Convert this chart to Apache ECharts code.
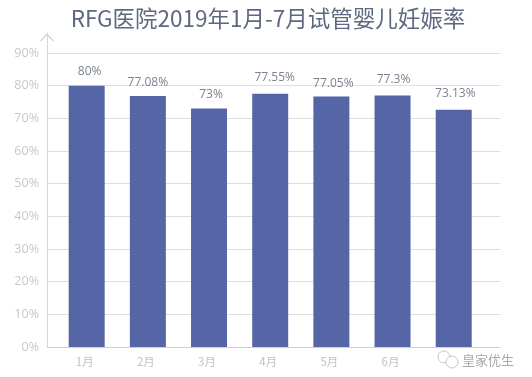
<!DOCTYPE html>
<html><head><meta charset="utf-8">
<script src="https://cdn.jsdelivr.net/npm/echarts@6/dist/echarts.min.js"></script>
<style>html,body{margin:0;padding:0;background:#fff}#c{width:532px;height:377px}</style>
</head><body><div id="c"></div>
<script>
const categories = ['1月','2月','3月','4月','5月','6月','7月'];
const values = [80, 76.8, 73, 77.5, 76.7, 77, 72.6];
const valueLabels = ['80%','77.08%','73%','77.55%','77.05%','77.3%','73.13%'];
const labelShiftX = [3, 0, 2, 4.5, 2, 1, 1.6];
const labelShiftY = [-2.5, -2, -2, -4.7, -1, -3.7, -4.5];
const chart = echarts.init(document.getElementById('c'), null, {renderer:'canvas'});
const font = '"Noto Sans CJK SC","Open Sans",sans-serif';
const yBase = {type:'value', min:0, max:96, interval:10};
chart.setOption({
  animation:false,
  backgroundColor:'#fff',
  title:{text:'RFG医院2019年1月-7月试管婴儿妊娠率', left:263, textAlign:'center', top:2,
    textStyle:{color:'#5e6880', fontSize:22.5, fontWeight:400, fontFamily:font}},
  grid:[
    {left:47, width:453, top:33.4, height:313.6},
    {left:56.1, width:428.2, top:33.4, height:313.6}
  ],
  xAxis:[
    {type:'category', gridIndex:0, data:categories, axisLabel:{show:false}, axisTick:{show:false},
      axisLine:{lineStyle:{color:'#cfcfcf',width:1}}},
    {type:'category', gridIndex:1, data:categories, axisTick:{show:false}, axisLine:{show:false},
      axisLabel:{color:'#c2c2c2', fontSize:11.5, margin:9, fontFamily:font, padding:[0,4,0,0]}}
  ],
  yAxis:[
    Object.assign({}, yBase, {gridIndex:0,
      axisLine:{show:true, lineStyle:{color:'#d6d6d6',width:1},
        symbol:['none','path://M0,7.2 L7,0 L14,7.2 L13,8.4 L7,2.2 L1,8.4 Z'], symbolSize:[14,8.4], symbolOffset:[0,-4]},
      axisTick:{show:false},
      splitLine:{show:true, showMaxLine:false, lineStyle:{color:'#dedede',width:1}},
      axisLabel:{color:'#c8c8c8', fontSize:12.5, margin:8, showMaxLabel:false, fontFamily:'"Open Sans",sans-serif', formatter:'{value}%'}}),
    Object.assign({}, yBase, {gridIndex:1, show:false})
  ],
  series:[{
    type:'bar', xAxisIndex:1, yAxisIndex:1, barWidth:36,
    itemStyle:{color:'#5565a6'},
    data:values.map((v,i)=>({value:v,
      label:{show:true, position:'top', distance:6, offset:[labelShiftX[i],labelShiftY[i]],
        formatter:valueLabels[i], color:'#7d8290', fontSize:12, fontFamily:'"Open Sans",sans-serif'}}))
  }],
  graphic:[
    {type:'rect', shape:{x:436,y:351.5,width:84,height:22}, style:{fill:'#fff'}, z:50},
    {type:'circle', shape:{cx:444,cy:357,r:6}, style:{fill:'none',stroke:'#c8c8c8',lineWidth:1}, z:51},
    {type:'circle', shape:{cx:452,cy:362,r:6}, style:{fill:'#fff',stroke:'#c8c8c8',lineWidth:1}, z:52},
    {type:'text', left:462, top:354, z:53, style:{text:'皇家优生', fill:'#a8a8a8', fontSize:13, fontFamily:font}}
  ]
});
</script></body></html>
